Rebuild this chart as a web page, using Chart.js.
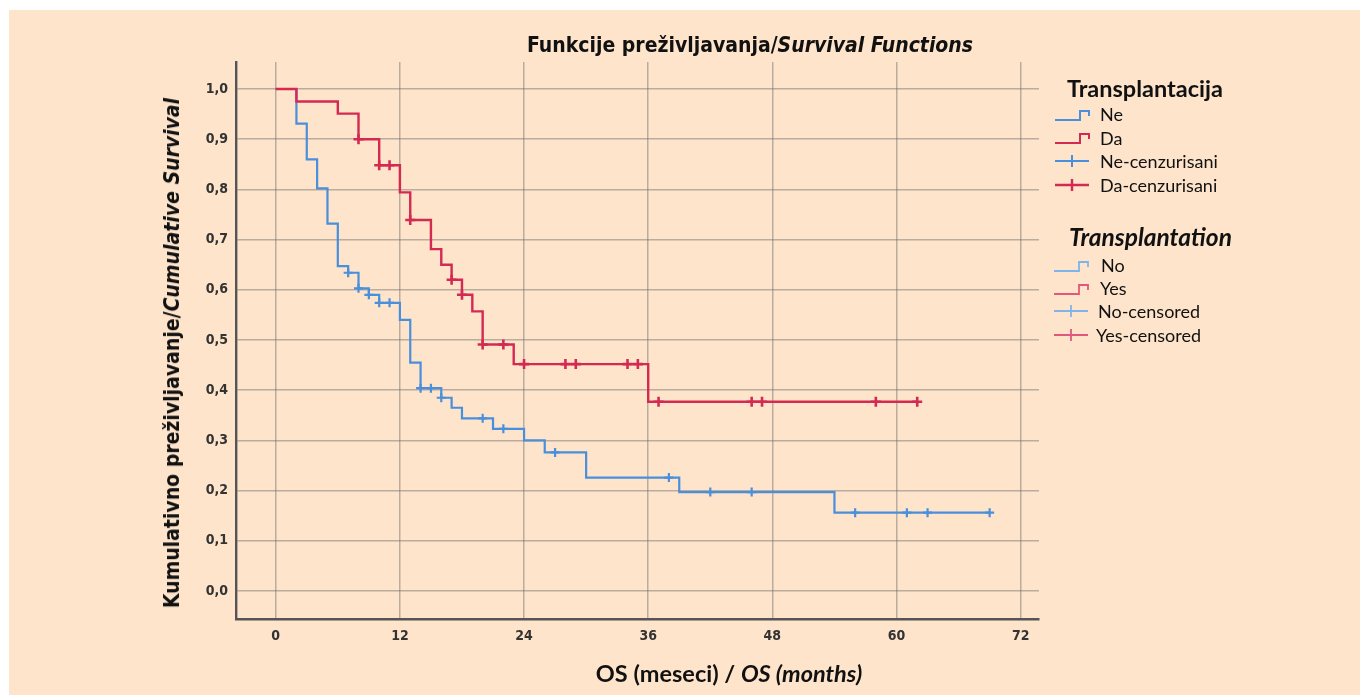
<!DOCTYPE html>
<html>
<head>
<meta charset="utf-8">
<script src="https://cdn.jsdelivr.net/npm/chart.js@4.4.1/dist/chart.umd.min.js"></script>
<style>
html, body { margin: 0; padding: 0; background: #fff; width: 1360px; height: 695px; overflow: hidden; }
#panel { position: absolute; left: 9px; top: 10px; width: 1351px; height: 685px; background: #fde4cb; }
#km { position: absolute; left: 0; top: 0; }
.t { position: absolute; white-space: nowrap; color: #111; }
.title { left: 750px; top: 45px; transform: translate(-50%, -50%); font: bold 21px "DejaVu Sans Condensed", sans-serif; }
.ytitle { left: 172px; top: 353px; transform: translate(-50%, -50%) rotate(-90deg); font: bold 21px "DejaVu Sans Condensed", sans-serif; }
.xtitle { left: 729px; top: 673px; transform: translate(-50%, -50%); font: bold 23.5px Lato, sans-serif; }
.lhead { font: bold 23.5px Lato, sans-serif; transform: translateY(-50%); }
.litem { font: 18px Lato, sans-serif; transform: translateY(-50%); }
.icon { position: absolute; transform: translateY(-50%); }
</style>
</head>
<body>
<div id="panel"></div>
<canvas id="km" width="1360" height="695"></canvas>

<div class="t title">Funkcije preživljavanja/<i>Survival Functions</i></div>
<div class="t ytitle">Kumulativno preživljavanje/<i>Cumulative Survival</i></div>
<div class="t xtitle">OS (meseci) / <i>OS (months)</i></div>

<div class="t lhead" style="left:1067px; top:88px;">Transplantacija</div>
<svg class="icon" style="left:1054px; top:116px;" width="38" height="14"><path d="M1 11 H26 V2 H35 V7" fill="none" stroke="#4a8fdc" stroke-width="2"/></svg>
<div class="t litem" style="left:1100px; top:114px;">Ne</div>
<svg class="icon" style="left:1054px; top:139px;" width="38" height="14"><path d="M1 11 H26 V2 H35 V7" fill="none" stroke="#d42a52" stroke-width="2"/></svg>
<div class="t litem" style="left:1100px; top:138px;">Da</div>
<svg class="icon" style="left:1054px; top:161px;" width="38" height="14"><path d="M1 7 H35 M18 1 V13" fill="none" stroke="#4a8fdc" stroke-width="2"/></svg>
<div class="t litem" style="left:1100px; top:161px;">Ne-cenzurisani</div>
<svg class="icon" style="left:1054px; top:185px;" width="38" height="14"><path d="M1 7 H35 M18 1 V13" fill="none" stroke="#d42a52" stroke-width="2.4"/></svg>
<div class="t litem" style="left:1100px; top:185px;">Da-cenzurisani</div>

<div class="t lhead" style="left:1069px; top:236px; font-size:24.5px;"><i>Transplantation</i></div>
<svg class="icon" style="left:1053px; top:267px;" width="38" height="14"><path d="M1 11 H26 V2 H35 V7" fill="none" stroke="#7fb4ea" stroke-width="1.8"/></svg>
<div class="t litem" style="left:1101px; top:265px;">No</div>
<svg class="icon" style="left:1053px; top:290px;" width="38" height="14"><path d="M1 11 H26 V2 H35 V7" fill="none" stroke="#e2587a" stroke-width="1.8"/></svg>
<div class="t litem" style="left:1100px; top:288px;">Yes</div>
<svg class="icon" style="left:1053px; top:311px;" width="38" height="14"><path d="M1 7 H35 M18 1 V13" fill="none" stroke="#7fb4ea" stroke-width="1.8"/></svg>
<div class="t litem" style="left:1098px; top:311px;">No-censored</div>
<svg class="icon" style="left:1053px; top:335px;" width="38" height="14"><path d="M1 7 H35 M18 1 V13" fill="none" stroke="#e2587a" stroke-width="1.8"/></svg>
<div class="t litem" style="left:1096px; top:335px;">Yes-censored</div>

<script>
// Kaplan-Meier steps: month of each drop and survival after it
const neMonths = [0, 2, 3, 4, 5, 6, 7, 8, 9, 10, 12, 13, 14, 16, 17, 18, 21, 24, 26, 30, 39, 54, 69];
const neSurvival = [1.0, 0.931, 0.860, 0.802, 0.732, 0.647, 0.634, 0.603, 0.590, 0.574, 0.540, 0.455, 0.404, 0.385, 0.365, 0.344, 0.323, 0.300, 0.276, 0.226, 0.197, 0.156, 0.156];

const daMonths = [0, 2, 6, 8, 10, 12, 13, 15, 16, 17, 18, 19, 20, 23, 36, 62];
const daSurvival = [1.0, 0.975, 0.951, 0.900, 0.848, 0.794, 0.739, 0.681, 0.650, 0.620, 0.590, 0.557, 0.491, 0.452, 0.377, 0.377];

// censored observations
const neCensorMonths = [7, 8, 9, 10, 11, 14, 15, 16, 20, 22, 27, 38, 42, 46, 56, 61, 63, 69];
const neCensorSurvival = [0.634, 0.603, 0.590, 0.574, 0.574, 0.404, 0.404, 0.385, 0.344, 0.323, 0.276, 0.226, 0.197, 0.197, 0.156, 0.156, 0.156, 0.156];

const daCensorMonths = [8, 10, 11, 13, 17, 18, 20, 22, 24, 28, 29, 34, 35, 37, 46, 47, 58, 62];
const daCensorSurvival = [0.900, 0.848, 0.848, 0.739, 0.620, 0.590, 0.491, 0.491, 0.452, 0.452, 0.452, 0.452, 0.452, 0.377, 0.377, 0.377, 0.377, 0.377];

const xTicks = [0, 12, 24, 36, 48, 60, 72];
const yTicks = [0, 0.1, 0.2, 0.3, 0.4, 0.5, 0.6, 0.7, 0.8, 0.9, 1.0];
const yTickLabels = ["0,0", "0,1", "0,2", "0,3", "0,4", "0,5", "0,6", "0,7", "0,8", "0,9", "1,0"];

const blue = "#4a8fdc";
const red = "#d42a52";
const gridColor = "rgba(105, 105, 105, 0.45)";
const tickFont = { family: "'DejaVu Sans Condensed', sans-serif", size: 14, weight: "bold" };

const toPoints = (xs, ys) => xs.map((x, i) => ({ x: x, y: ys[i] }));

const km = new Chart(document.getElementById("km"), {
    type: "scatter",
    data: {
        datasets: [
            {
                label: "Da-cenzurisani",
                data: toPoints(daCensorMonths, daCensorSurvival),
                showLine: false,
                pointStyle: "cross",
                pointRadius: 5,
                pointBorderWidth: 2.6,
                borderColor: red,
                order: 0,
            },
            {
                label: "Ne-cenzurisani",
                data: toPoints(neCensorMonths, neCensorSurvival),
                showLine: false,
                pointStyle: "cross",
                pointRadius: 4.5,
                pointBorderWidth: 2.2,
                borderColor: blue,
                order: 1,
            },
            {
                label: "Da",
                data: toPoints(daMonths, daSurvival),
                showLine: true,
                stepped: "before",
                borderColor: red,
                borderWidth: 2.4,
                pointRadius: 0,
                order: 2,
            },
            {
                label: "Ne",
                data: toPoints(neMonths, neSurvival),
                showLine: true,
                stepped: "before",
                borderColor: blue,
                borderWidth: 2.2,
                pointRadius: 0,
                order: 3,
            },
        ],
    },
    options: {
        responsive: false,
        animation: false,
        layout: {
            padding: { left: 186, right: 321, top: 62, bottom: 46 },
        },
        plugins: {
            legend: { display: false },
            tooltip: { enabled: false },
        },
        scales: {
            x: {
                type: "linear",
                min: -3.84,
                max: 73.77,
                afterBuildTicks: (s) => { s.ticks = xTicks.map((v) => ({ value: v })); },
                afterFit: (s) => { s.height = 30; },
                ticks: {
                    font: tickFont,
                    color: "#333",
                    padding: 9,
                    callback: (v) => String(v),
                },
                grid: { color: gridColor, lineWidth: 1.5, drawTicks: false },
                border: { color: "#555", width: 2.4 },
            },
            y: {
                min: -0.0558,
                max: 1.0538,
                afterBuildTicks: (s) => { s.ticks = yTicks.map((v) => ({ value: v })); },
                afterFit: (s) => { s.width = 50; },
                ticks: {
                    font: tickFont,
                    color: "#333",
                    padding: 8,
                    callback: (v, i) => yTickLabels[i],
                },
                grid: { color: gridColor, lineWidth: 1.5, drawTicks: false },
                border: { color: "#555", width: 2.4 },
            },
        },
    },
});
</script>
</body>
</html>
